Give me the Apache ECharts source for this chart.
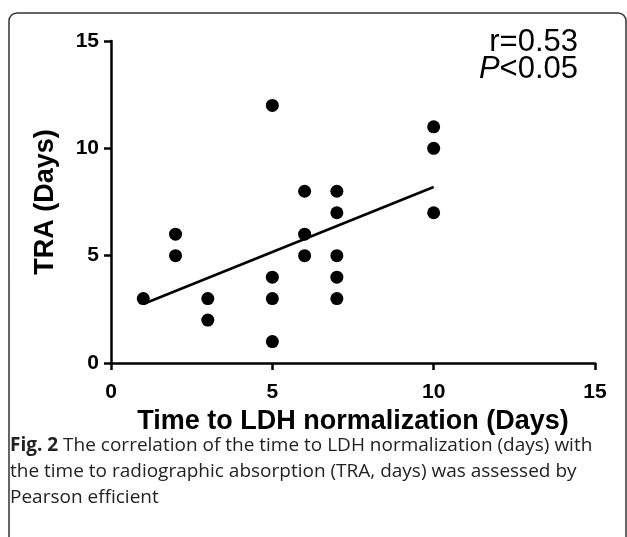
<!DOCTYPE html>
<html>
<head>
<meta charset="utf-8">
<script src="https://cdn.jsdelivr.net/npm/echarts@6/dist/echarts.min.js"></script>
<style>
html,body{margin:0;padding:0;background:#fff;}
#chart{width:627px;height:537px;}
</style>
</head>
<body>
<div id="chart"></div>
<script>
// Data
const ldhDays = [1, 2, 2, 3, 3, 5, 5, 5, 5, 6, 6, 6, 7, 7, 7, 7, 7, 10, 10, 10];
const traDays = [3, 6, 5, 3, 2, 12, 4, 3, 1, 8, 6, 5, 8, 7, 5, 4, 3, 11, 10, 7];
const fitX = [1, 10];
const fitY = [2.75, 8.2];
const xTicks = [0, 5, 10, 15];
const yTicks = [0, 5, 10, 15];
const xTitle = 'Time to LDH normalization (Days)';
const yTitle = 'TRA (Days)';
const statR = 'r=0.53';
const statP = '<0.05';
const captionLines = [
  'The correlation of the time to LDH normalization (days) with',
  'the time to radiographic absorption (TRA, days) was assessed by',
  'Pearson efficient'
];

const chart = echarts.init(document.getElementById('chart'));
const axisFont = 'Liberation Sans, Arial, sans-serif';
const capFont = 'Open Sans, Noto Sans, sans-serif';

const points = ldhDays.map((x, i) => [x, traDays[i]]);
const fit = fitX.map((x, i) => [x, fitY[i]]);

chart.setOption({
  animation: false,
  backgroundColor: '#fff',
  grid: { left: 111, right: 32, top: 41, bottom: 174, containLabel: false },
  xAxis: {
    type: 'value', min: 0, max: 15, interval: 5,
    axisLine: { show: true, lineStyle: { color: '#000', width: 2.5 } },
    axisTick: { show: true, length: 7, lineStyle: { color: '#000', width: 2.5 } },
    splitLine: { show: false },
    axisLabel: { color: '#000', fontFamily: axisFont, fontWeight: 'bold', fontSize: 21, margin: 19,
      formatter: v => xTicks.includes(v) ? String(v) : '' },
    name: xTitle, nameLocation: 'middle', nameGap: 45,
    nameTextStyle: { color: '#000', fontFamily: axisFont, fontWeight: 'bold', fontSize: 27 }
  },
  yAxis: {
    type: 'value', min: 0, max: 15, interval: 5,
    axisLine: { show: true, lineStyle: { color: '#000', width: 2.5 } },
    axisTick: { show: true, length: 7, lineStyle: { color: '#000', width: 2.5 } },
    splitLine: { show: false },
    axisLabel: { color: '#000', fontFamily: axisFont, fontWeight: 'bold', fontSize: 21, margin: 12,
      formatter: v => yTicks.includes(v) ? String(v) : '' },
    name: yTitle, nameLocation: 'middle', nameGap: 52,
    nameTextStyle: { color: '#000', fontFamily: axisFont, fontWeight: 'bold', fontSize: 27 }
  },
  series: [
    {
      type: 'scatter', data: points, symbol: 'circle', symbolSize: 13,
      itemStyle: { color: '#000', opacity: 1 }, z: 3
    },
    {
      type: 'line', data: fit, symbol: 'none',
      lineStyle: { color: '#000', width: 2.5 }, z: 2
    }
  ],
  graphic: [
    { type: 'rect', shape: { x: 9, y: 13, width: 617, height: 560, r: 8 },
      style: { fill: 'none', stroke: '#333', lineWidth: 1.5 }, z: -1 },
    { type: 'text', right: 49, top: 27,
      style: { text: statR, font: '31px ' + axisFont, fill: '#000' } },
    { type: 'text', right: 49, top: 54,
      style: { text: '{i|P}' + statP, font: '31px ' + axisFont, fill: '#000',
        rich: { i: { fontStyle: 'italic', fontSize: 31, fontFamily: axisFont } } } },
    { type: 'text', left: 10, top: 436,
      style: { text: '{b|Fig. 2} ' + captionLines[0], font: '19px ' + capFont, fill: '#222',
        rich: { b: { fontWeight: 'bold', fontSize: 19, fontFamily: capFont, fill: '#222' } } } },
    { type: 'text', left: 10, top: 462,
      style: { text: captionLines[1], font: '19px ' + capFont, fill: '#222' } },
    { type: 'text', left: 10, top: 488,
      style: { text: captionLines[2], font: '19px ' + capFont, fill: '#222' } }
  ]
});
</script>
</body>
</html>
